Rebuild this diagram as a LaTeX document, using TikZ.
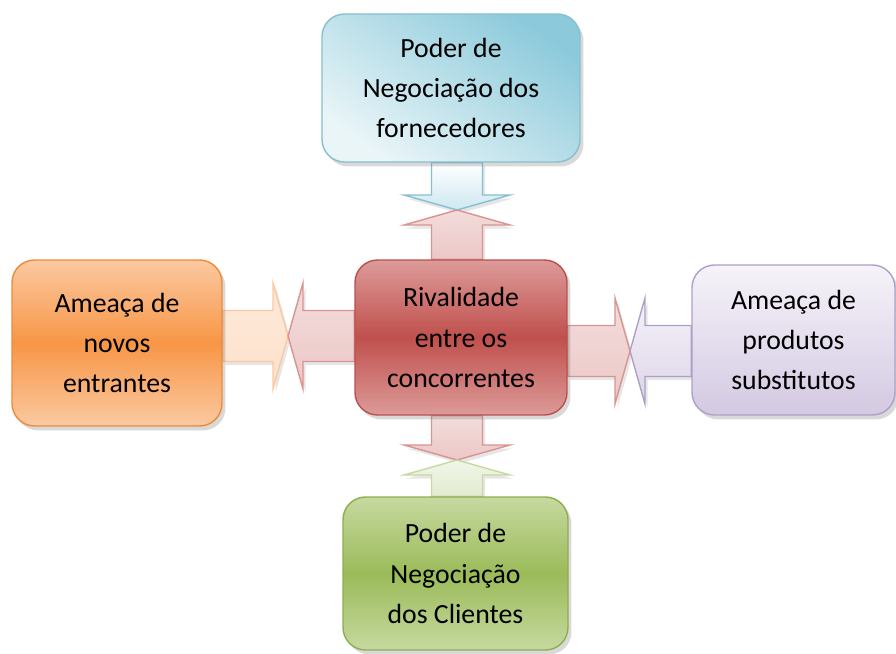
\documentclass[tikz,border=0pt]{standalone}
\usepackage{fontspec}
\setmainfont{Carlito}
\usepackage{tikz}
\usetikzlibrary{calc,shadows,backgrounds}

\definecolor{supD}{HTML}{8CCADB}
\definecolor{supL}{HTML}{EAF5F8}
\definecolor{supB}{HTML}{86BFD0}
\definecolor{novD}{HTML}{F79646}
\definecolor{novL}{HTML}{FBC9A1}
\definecolor{novB}{HTML}{EE8A3A}
\definecolor{rivD}{HTML}{C0504D}
\definecolor{rivL}{HTML}{DC9B99}
\definecolor{rivB}{HTML}{B9504D}
\definecolor{subD}{HTML}{D3C9E2}
\definecolor{subL}{HTML}{F6F3F9}
\definecolor{subB}{HTML}{ADA0C8}
\definecolor{cliD}{HTML}{9BBB59}
\definecolor{cliL}{HTML}{C6D9A0}
\definecolor{cliB}{HTML}{8EAE4E}

% block arrow: style, start, tip
\newcommand{\forcearrow}[3]{%
  \coordinate (fa-b) at ($(#3)!0.3cm!(#2)$);
  \draw[#1] ($(#2)!0.51cm!90:(#3)$) -- ($(fa-b)!0.51cm!90:(#3)$)
    -- ($(fa-b)!1.06cm!90:(#3)$) -- (#3) -- ($(fa-b)!1.06cm!-90:(#3)$)
    -- ($(fa-b)!0.51cm!-90:(#3)$) -- ($(#2)!0.51cm!-90:(#3)$) -- cycle;
}

\begin{document}
\begin{tikzpicture}[x=0.02cm, y=-0.02cm,
    force/.style={rectangle, rounded corners=0.45cm, align=center, draw, line width=0.8pt,
      font=\fontsize{15.8}{22.8}\selectfont,
      drop shadow={opacity=0.3, shadow xshift=2pt, shadow yshift=-2.5pt}},
    arr/.style={line width=0.8pt, line join=miter,
      drop shadow={opacity=0.2, shadow xshift=1.5pt, shadow yshift=-2pt}},
    arrblue/.style={arr, draw=supB, top color=white, bottom color=supL!70!supD},
    arrred/.style={arr, draw=rivL!90!rivD, top color=rivL!35, bottom color=rivL!55},
    arrorange/.style={arr, draw=novL, top color=novL!40, bottom color=novL!55},
    arrpurple/.style={arr, draw=subB, top color=subL, bottom color=subD!80},
    arrgreen/.style={arr, draw=cliL, top color=cliL!25, bottom color=cliL!50}]

    \useasboundingbox (0,0) rectangle (896,653);

    \coordinate (mT) at (457,210);
    \coordinate (mB) at (457,460);
    \coordinate (mL) at (288,336);
    \coordinate (mR) at (630,351);

    \node[force, minimum width=5.16cm, minimum height=2.96cm, draw=supB,
      top color=supD, bottom color=supL, shading angle=-35] (sup) at (451,88)
      {Poder de\\Negociação dos\\fornecedores};
    \node[force, minimum width=4.2cm, minimum height=3.32cm, draw=novB,
      top color=novL, bottom color=novL, middle color=novD] (nov) at (117,343)
      {Ameaça de\\novos\\entrantes};
    \node[force, minimum width=4.24cm, minimum height=3.1cm, draw=rivB,
      top color=rivL, bottom color=rivL, middle color=rivD] (riv) at (461,337.5)
      {Rivalidade\\entre os\\concorrentes};
    \node[force, minimum width=4.06cm, minimum height=3.0cm, draw=subB,
      top color=subL, bottom color=subD] (sub) at (793.5,340)
      {Ameaça de\\produtos\\substitutos};
    \node[force, minimum width=4.5cm, minimum height=3.06cm, draw=cliB,
      top color=cliL, bottom color=cliL, middle color=cliD] (cli) at (455.5,573.5)
      {Poder de\\Negociação\\dos Clientes};

    \begin{scope}[on background layer]
    \forcearrow{arrblue}{mT |- sup.south}{mT}
    \forcearrow{arrred}{mT |- riv.north}{mT}
    \forcearrow{arrred}{mB |- riv.south}{mB}
    \forcearrow{arrgreen}{mB |- cli.north}{mB}
    \forcearrow{arrorange}{mL -| nov.east}{mL}
    \forcearrow{arrred}{mL -| riv.west}{mL}
    \forcearrow{arrred}{mR -| riv.east}{mR}
    \forcearrow{arrpurple}{mR -| sub.west}{mR}
    \end{scope}
\end{tikzpicture}
\end{document}
